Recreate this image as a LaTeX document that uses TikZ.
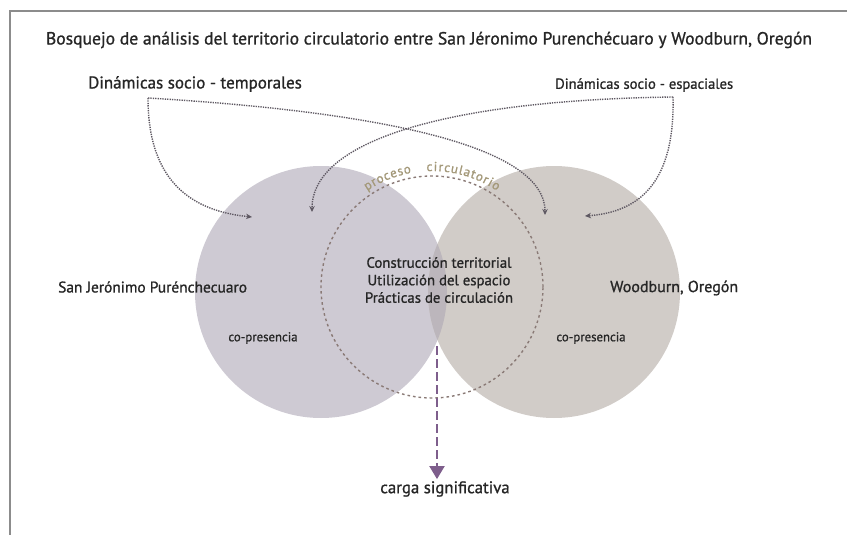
\documentclass[tikz,border=0pt]{standalone}
\usepackage{fontspec}
\setmainfont{PT Sans}[FakeBold=1]
\usetikzlibrary{arrows.meta,decorations.text,calc}

\definecolor{leftc}{HTML}{CECAD3}
\definecolor{rightc}{HTML}{D1CCC8}
\definecolor{lensc}{HTML}{BCB6BC}
\definecolor{linkc}{HTML}{5E5862}
\definecolor{procline}{HTML}{8A7A76}
\definecolor{proctext}{HTML}{A39878}
\definecolor{purp}{HTML}{7E5E8C}
\definecolor{framec}{HTML}{8C8C8C}
\definecolor{txt}{HTML}{262626}

\begin{document}
\begin{tikzpicture}[x=1pt,y=-1pt,
  lbl/.style={inner sep=0pt, text=txt},
  zone/.style={circle, inner sep=0pt, minimum size=252pt},
  link/.style={draw=linkc, line width=1.4pt, dash pattern=on 1.3pt off 1.1pt,
    -{Stealth[length=6pt,width=5.5pt]}},
  procring/.style={draw=procline, line width=1.4pt, dash pattern=on 2.6pt off 3pt},
  carga/.style={draw=purp, line width=2pt, dash pattern=on 9pt off 4pt,
    -{Triangle[length=13pt,width=15pt]}}
]
\useasboundingbox (0,0) rectangle (847,535);
\fill[white] (0,0) rectangle (847,535);

% frame edges
\draw[framec, line width=2.5pt] (847,11) -- (10,11) -- (10,535);

% the two places and their overlap
\node[zone, fill=leftc]  (sj) at (321,292) {};
\node[zone, fill=rightc] (wb) at (554,292) {};
\begin{scope}
  \clip (sj.center) circle[radius=126];
  \fill[lensc] (wb.center) circle[radius=126];
\end{scope}
\coordinate (lensb) at (437,346);

% circulatory process ring, its name set along the top
\node[circle, procring, inner sep=0pt, minimum size=222pt] (proc) at (432,287) {};
\path[decorate, decoration={text effects along path,
    text={proceso\ \ \ circulatorio}, text align=center,
    text effects/.cd, text along path,
    character widths={inner xsep=1.1pt},
    every character/.style={font=\fontsize{13}{13}\selectfont,
      text=proctext, inner ysep=0pt, text depth=0pt}}]
  (proc.center) ++(-130:116) arc[start angle=-130, end angle=-50, radius=116];

% labels
\node[lbl, font=\fontsize{17.6}{19}\selectfont] (title) at (429,40)
  {Bosquejo de análisis del territorio circulatorio entre San Jéronimo Purenchécuaro y Woodburn, Oregón};
\node[lbl, anchor=west, font=\fontsize{17}{19}\selectfont] (temp) at (88,84)
  {Dinámicas socio - temporales};
\node[lbl, anchor=west, font=\fontsize{14.6}{16}\selectfont] (esp) at (555,85)
  {Dinámicas socio - espaciales};
\node[lbl, anchor=west, font=\fontsize{15.4}{17}\selectfont] (sjname) at (58,287)
  {San Jerónimo Purénchecuaro};
\node[lbl, anchor=west, font=\fontsize{16}{18}\selectfont] (wbname) at (610,288)
  {Woodburn, Oregón};
\node[lbl, font=\fontsize{12.8}{14}\selectfont] (copl) at (263,338) {co-presencia};
\node[lbl, font=\fontsize{12.8}{14}\selectfont] (copr) at (591,338) {co-presencia};
\node[lbl, align=center, font=\fontsize{14.8}{17.5}\selectfont] (mid) at (439,280)
  {Construcción territorial\\Utilización del espacio\\Prácticas de circulación};
\node[lbl, inner sep=2pt, font=\fontsize{16.8}{19}\selectfont] (cargat) at (445,489)
  {carga significativa};

% split points under the two headings and arrow targets
\coordinate (tsplit) at (148,98);
\coordinate (esplit) at (673,97);
\coordinate (tl) at (252,217);
\coordinate (tr) at (545,215);
\coordinate (el) at (312,212);
\coordinate (er) at (585,216);

\draw[link] (tsplit) .. controls (148,182) and (192,211) .. (tl);
\draw[link] (tsplit) .. controls (350,110) and (545,140) .. (tr);
\draw[link] (esplit) .. controls (450,100) and (312,140) .. (el);
\draw[link] (esplit) .. controls (675,182) and (640,212) .. (er);

% signification load
\draw[carga] (lensb) -- (lensb |- cargat.north);
\end{tikzpicture}
\end{document}
